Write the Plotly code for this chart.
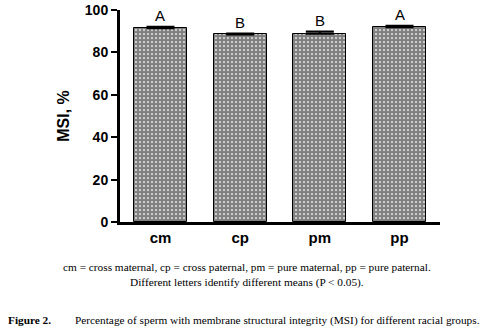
import plotly.graph_objects as go

categories = ["cm", "cp", "pm", "pp"]
msi_values = [91.4, 88.5, 88.8, 91.9]
msi_errors = [0.7, 0.4, 1.0, 0.7]
letters = ["A", "B", "B", "A"]
y_ticks = [0, 20, 40, 60, 80, 100]

x_pos = list(range(len(categories)))

fig = go.Figure()
fig.add_trace(go.Bar(
    x=x_pos, y=msi_values, width=0.665,
    marker=dict(color="white", line=dict(color="black", width=1),
                pattern=dict(shape=".", fgcolor="black", bgcolor="white", size=4, solidity=0.8)),
    error_y=dict(type="data", array=msi_errors, symmetric=False, arrayminus=[0]*4,
                 color="black", thickness=2, width=14),
    showlegend=False,
))

for i, (v, e, t) in enumerate(zip(msi_values, msi_errors, letters)):
    fig.add_annotation(x=i, y=v + e, text=t, showarrow=False, yanchor="bottom", yshift=1,
                       font=dict(family="Liberation Sans, Arial", size=15, color="black"))

serif = "Liberation Serif, Times New Roman"
fig.add_annotation(xref="paper", yref="paper", x=0.397, y=0, xanchor="center", yanchor="top", yshift=-37,
                   text="cm = cross maternal, cp = cross paternal, pm = pure maternal, pp = pure paternal.<br>Different letters identify different means (P &lt; 0.05).",
                   showarrow=False, align="center",
                   font=dict(family=serif, size=11.3, color="black"))
fig.add_annotation(xref="paper", yref="paper", x=-0.356, y=0, xanchor="left", yanchor="top", yshift=-90,
                   text="<b>Figure 2.</b>", showarrow=False, align="left",
                   font=dict(family=serif, size=11.3, color="black"))
fig.add_annotation(xref="paper", yref="paper", x=-0.147, y=0, xanchor="left", yanchor="top", yshift=-90,
                   text="Percentage of sperm with membrane structural integrity (MSI) for different racial groups.",
                   showarrow=False, align="left",
                   font=dict(family=serif, size=11.3, color="black"))

fig.update_layout(
    width=481, height=329,
    margin=dict(l=120, r=41, t=10, b=107, autoexpand=False),
    plot_bgcolor="white", paper_bgcolor="white",
    bargap=0,
    xaxis=dict(range=[-0.508, 3.508], tickvals=x_pos, ticktext=categories, automargin=False,
               showline=True, linecolor="black", linewidth=3, ticks="", showgrid=False,
               zeroline=False,
               tickfont=dict(family="Liberation Sans, Arial", size=15, color="black", weight="bold")),
    yaxis=dict(range=[0, 100], tickvals=y_ticks, showline=True, linecolor="black", linewidth=3,
               automargin=False,
               ticks="outside", ticklen=6, tickwidth=2, tickcolor="black", showgrid=False, zeroline=False,
               title=dict(text="<b>MSI, %</b>", standoff=12,
                          font=dict(family="Liberation Sans, Arial", size=16, color="black")),
               tickfont=dict(family="Liberation Sans, Arial", size=14, color="black", weight="bold")),
)

fig.write_html("out.html", config={"displayModeBar": False},
               post_script="document.body.style.margin='0';document.body.style.overflow='hidden';")
